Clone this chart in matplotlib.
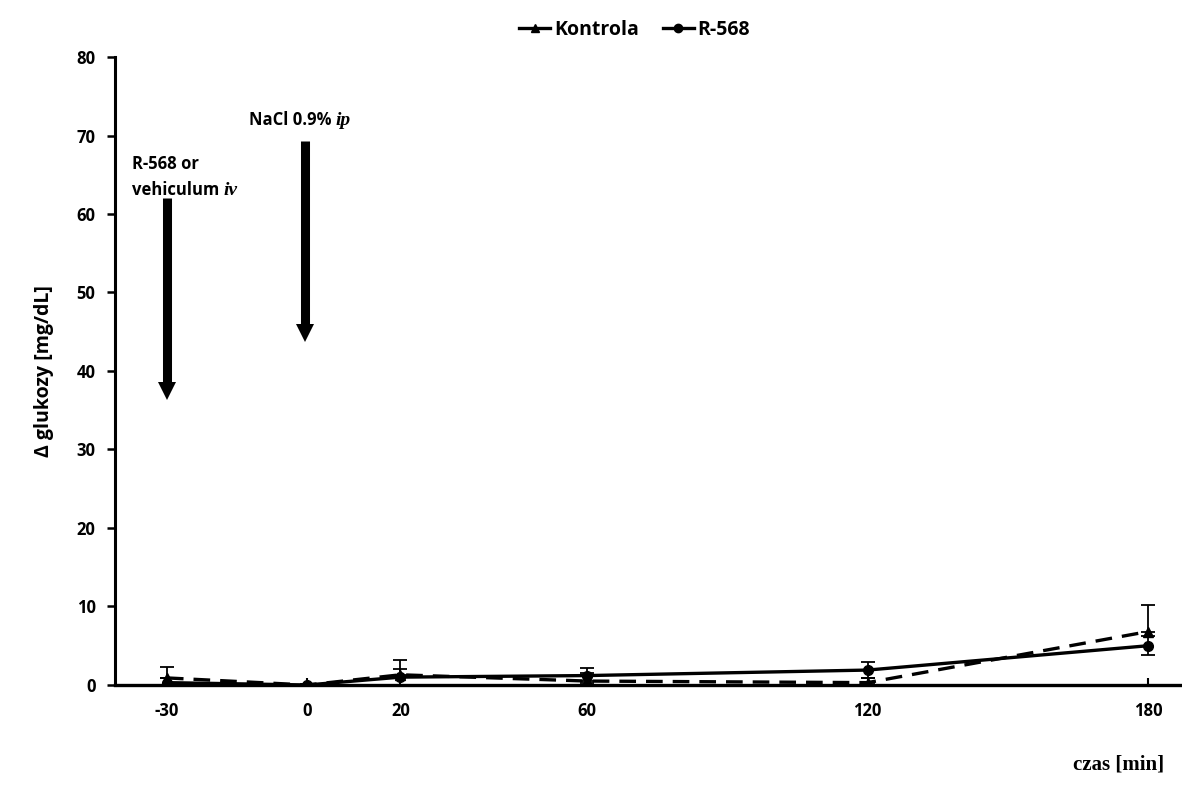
import matplotlib.pyplot as plt
import matplotlib
from matplotlib.lines import Line2D
from matplotlib.transforms import offset_copy

matplotlib.rcParams['font.family'] = 'Open Sans'
matplotlib.rcParams['font.weight'] = 'bold'

# czas [min]
czas = [-30, 0, 20, 60, 120, 180]
tick_labels = ['-30', '0', '20', '60', '120', '180']

kontrola = [0.9, 0.0, 1.3, 0.5, 0.3, 6.8]
kontrola_err = [1.4, 0.0, 1.9, 1.0, 0.6, 3.4]
r568 = [0.3, 0.0, 1.0, 1.2, 1.9, 5.0]
r568_err = [0.6, 0.0, 1.0, 1.0, 1.0, 1.2]

fig = plt.figure(figsize=(11.82, 7.94), dpi=100)
ax = fig.add_axes([0.0973, 0.1373, 0.9027, 0.7909])

ax.errorbar(czas, kontrola, yerr=[[0] * len(kontrola_err), kontrola_err],
            color='black', linestyle='--', dashes=(5, 3), lw=2.4,
            marker='^', ms=7, capsize=5, elinewidth=1.3, capthick=1.3)
ax.errorbar(czas, r568, yerr=r568_err, color='black', linestyle='-', lw=2.4,
            marker='o', ms=7, capsize=5, elinewidth=1.3, capthick=1.3)

ax.set_xlim(-41.1, 187.3)
ax.set_ylim(0, 80)
ax.set_yticks(range(0, 81, 10))
ax.set_xticks(czas)
ax.set_xticklabels(tick_labels)
ax.tick_params(axis='y', direction='out', length=6, width=1.8, labelsize=12, pad=8)
ax.tick_params(axis='x', direction='in', length=5, width=1.5, labelsize=12, pad=12)
for side in ['top', 'right']:
    ax.spines[side].set_visible(False)
ax.spines['left'].set_linewidth(2.2)
ax.spines['bottom'].set_linewidth(2.4)

ax.set_ylabel('Δ glukozy [mg/dL]', fontsize=14, fontweight='bold', labelpad=16)
fig.text(0.985, 0.025, 'czas [min]', ha='right', va='bottom',
         fontsize=15, fontweight='bold', family='Liberation Serif')

# arrows: shaft + triangular head
arrows = [(-30, 62, 36.5), (-0.5, 69.3, 44.0)]
for x, y0, y1 in arrows:
    ax.plot([x, x], [y0, y1 + 1.5], color='black', lw=6.5, solid_capstyle='butt')
    ax.plot([x], [y1 + 0.9], color='black', marker='v', ms=13, mew=0)

serif_it = dict(family='Liberation Serif', style='italic', fontweight='bold',
                fontsize=14, va='baseline')
ax.text(-37.4, 65.7, 'R-568 or', fontsize=12, fontweight='bold', va='baseline')
t1 = ax.text(-37.4, 62.4, 'vehiculum', fontsize=12, fontweight='bold', va='baseline')
t2 = ax.text(-12.5, 71.4, 'NaCl 0.9%', fontsize=12, fontweight='bold', va='baseline')
fig.canvas.draw()
inv = ax.transData.inverted()
for t, s in [(t1, 'iv'), (t2, 'ip')]:
    bb = t.get_window_extent()
    x_end = inv.transform((bb.x1, bb.y0))[0]
    ax.text(x_end, t.get_position()[1], s,
            transform=offset_copy(ax.transData, fig=fig, x=4, y=0, units='dots'),
            **serif_it)

handles = [Line2D([], [], color='black', lw=2.4, marker='^', ms=6),
           Line2D([], [], color='black', lw=2.4, marker='o', ms=6)]
fig.legend(handles, ['Kontrola', 'R-568'], loc='upper center',
           bbox_to_anchor=(0.537, 0.997), ncol=2, frameon=False, fontsize=14,
           handlelength=1.6, columnspacing=1.2, handletextpad=0.2)

fig.savefig('out.png', dpi=100)
